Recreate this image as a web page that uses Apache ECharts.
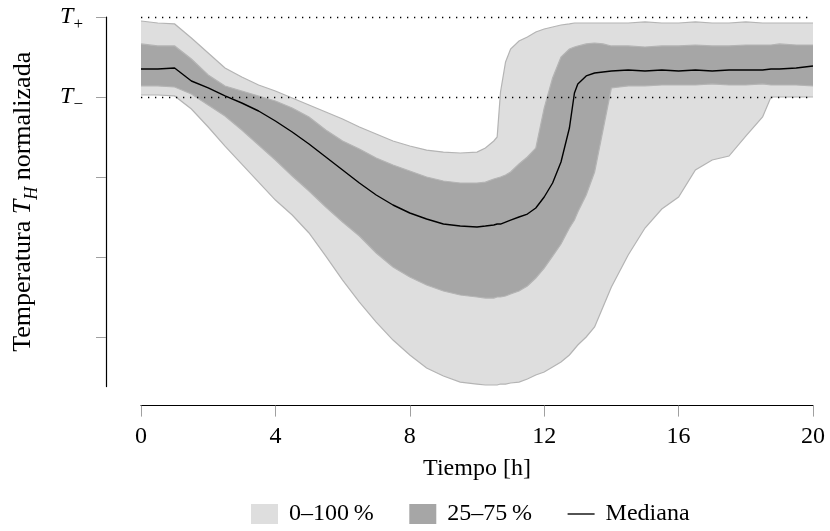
<!DOCTYPE html>
<html>
<head>
<meta charset="utf-8">
<script src="https://cdn.jsdelivr.net/npm/echarts@6/dist/echarts.min.js"></script>
<style>html,body{margin:0;padding:0;background:#fff}#c{width:830px;height:531px}</style>
</head>
<body>
<div id="c"></div>
<script>
// Time (h)
const hours = [0,0.5,1,1.5,2,2.5,3,3.5,4,4.5,5,5.5,6,6.5,7,7.5,8,8.5,9,9.5,10,10.25,10.5,10.6,10.7,10.85,11,11.25,11.5,11.75,12,12.25,12.5,12.75,12.9,13,13.25,13.5,13.75,14,14.5,15,15.5,16,16.5,17,17.5,18,18.5,18.75,19,19.5,20];
// Normalized temperature (T- = 0, T+ = 1)
const outerUpper = [0.95,0.925,0.913,0.738,0.55,0.363,0.25,0.15,0.075,-0.013,-0.1,-0.188,-0.275,-0.375,-0.463,-0.55,-0.613,-0.663,-0.688,-0.7,-0.688,-0.638,-0.55,-0.5,0.063,0.438,0.6,0.7,0.75,0.813,0.85,0.875,0.9,0.913,0.925,0.925,0.925,0.925,0.925,0.925,0.925,0.938,0.925,0.925,0.938,0.925,0.925,0.938,0.925,0.925,0.925,0.925,0.925];
const outerLower = [0.025,0.025,0.013,-0.15,-0.375,-0.613,-0.838,-1.063,-1.288,-1.475,-1.7,-1.988,-2.288,-2.563,-2.813,-3.038,-3.225,-3.388,-3.488,-3.563,-3.588,-3.6,-3.6,-3.6,-3.588,-3.588,-3.575,-3.563,-3.525,-3.475,-3.438,-3.375,-3.313,-3.225,-3.15,-3.1,-3.0,-2.875,-2.625,-2.375,-1.975,-1.638,-1.4,-1.25,-0.913,-0.788,-0.738,-0.488,-0.25,0,0,0,0];
const innerUpper = [0.663,0.638,0.638,0.475,0.275,0.138,0.075,0.013,-0.05,-0.138,-0.25,-0.413,-0.55,-0.65,-0.763,-0.85,-0.925,-1.0,-1.05,-1.075,-1.075,-1.063,-1.025,-1.013,-1.0,-0.975,-0.938,-0.838,-0.75,-0.638,-0.138,0.238,0.5,0.6,0.625,0.638,0.663,0.675,0.663,0.638,0.638,0.625,0.638,0.638,0.65,0.638,0.638,0.65,0.65,0.65,0.663,0.65,0.65];
const innerLower = [0.138,0.138,0.125,0.038,-0.1,-0.238,-0.413,-0.6,-0.788,-0.988,-1.175,-1.375,-1.563,-1.738,-1.95,-2.125,-2.25,-2.35,-2.425,-2.475,-2.5,-2.513,-2.513,-2.5,-2.5,-2.488,-2.463,-2.425,-2.363,-2.263,-2.138,-1.988,-1.838,-1.638,-1.538,-1.438,-1.225,-0.938,-0.413,0.113,0.138,0.138,0.15,0.15,0.15,0.163,0.15,0.15,0.163,0.15,0.15,0.15,0.138];
const median = [0.35,0.35,0.363,0.2,0.113,0.013,-0.075,-0.175,-0.3,-0.438,-0.588,-0.75,-0.913,-1.075,-1.225,-1.35,-1.45,-1.525,-1.588,-1.613,-1.625,-1.613,-1.6,-1.588,-1.588,-1.563,-1.538,-1.5,-1.463,-1.388,-1.25,-1.075,-0.813,-0.388,0.05,0.163,0.263,0.3,0.313,0.325,0.338,0.325,0.338,0.325,0.338,0.325,0.338,0.338,0.338,0.35,0.35,0.363,0.388];
const xTicks = [0,4,8,12,16,20];
const yTicks = [-3,-2,-1,0,1];
const yLabels = {1:'+', 0:'\u2212'};
const legendNames = ['0\u2013100\u2009%','25\u201375\u2009%','Mediana'];

const FONT = 'Liberation Serif';
const FS = 24;
const EDGE = '#b4b4b4';

function bandSeries(name, upper, lower, fill, z) {
  return {
    name: name, type:'custom', coordinateSystem:'cartesian2d', silent:true, z:z,
    itemStyle:{color:fill},
    data:[[hours[0], upper[0]]],
    encode:{x:0, y:1},
    renderItem:function(params, api){
      const up = hours.map((h,i)=>api.coord([h, upper[i]]));
      const lo = hours.map((h,i)=>api.coord([h, lower[i]]));
      const poly = up.concat(lo.slice().reverse());
      return {type:'group', children:[
        {type:'polygon', shape:{points:poly}, style:{fill:fill, stroke:null}},
        {type:'polyline', shape:{points:up}, style:{fill:null, stroke:EDGE, lineWidth:1.2}},
        {type:'polyline', shape:{points:lo}, style:{fill:null, stroke:EDGE, lineWidth:1.2}}
      ]};
    }
  };
}

const chart = echarts.init(document.getElementById('c'), null, {renderer:'canvas'});
chart.setOption({
  animation:false,
  backgroundColor:'#fff',
  grid:{left:141, right:17, top:17, bottom:144.4, outerBoundsMode:'none', containLabel:false},
  xAxis:{
    type:'value', min:0, max:20, interval:4, offset:19,
    axisLine:{onZero:false, lineStyle:{color:'#000', width:1.2}},
    axisTick:{length:11, lineStyle:{color:'#a0a0a0', width:1}},
    axisLabel:{margin:19, color:'#000', fontFamily:FONT, fontSize:FS},
    splitLine:{show:false},
    name:'Tiempo [h]', nameLocation:'middle', nameGap:51,
    nameTextStyle:{color:'#000', fontFamily:FONT, fontSize:FS}
  },
  yAxis:{
    type:'value', min:-3.62, max:1, offset:35,
    axisLine:{show:true, onZero:false, lineStyle:{color:'#000', width:1.2}},
    axisTick:{show:true, length:10, customValues:yTicks, lineStyle:{color:'#a0a0a0', width:1}},
    axisLabel:{show:true, customValues:[0,1], margin:23, color:'#000', fontFamily:FONT, fontSize:FS,
      formatter: v => (yLabels[v] !== undefined ? '{t|T}{s|' + yLabels[v] + '}' : ''),
      rich:{
        t:{fontFamily:FONT, fontSize:FS, fontStyle:'italic', lineHeight:22, color:'#000'},
        s:{fontFamily:FONT, fontSize:17, lineHeight:32, verticalAlign:'bottom', color:'#000'}
      }},
    splitLine:{show:false},
    name:'{a|Temperatura }{t|T}{h|H}{a| normalizada}', nameLocation:'middle', nameGap:65,
    nameTextStyle:{color:'#000', fontFamily:FONT, fontSize:26,
      rich:{
        a:{fontFamily:FONT, fontSize:26, lineHeight:25, color:'#000'},
        t:{fontFamily:FONT, fontSize:26, fontStyle:'italic', lineHeight:25, color:'#000'},
        h:{fontFamily:FONT, fontSize:18, fontStyle:'italic', lineHeight:35, verticalAlign:'bottom', color:'#000'}
      }}
  },
  legend:{
    top:502, left:251, padding:0, itemWidth:27, itemHeight:20, itemGap:35.5,
    textStyle:{fontFamily:FONT, fontSize:FS, color:'#000', padding:[0,0,0,6]},
    data:[
      {name:legendNames[0], icon:'rect', itemStyle:{color:'#dedede', borderWidth:0}},
      {name:legendNames[1], icon:'rect', itemStyle:{color:'#a6a6a6', borderWidth:0}},
      {name:legendNames[2], icon:'path://M0,0H100V5H0Z', itemStyle:{color:'#000', borderWidth:0}}
    ]
  },
  series:[
    bandSeries(legendNames[0], outerUpper, outerLower, '#dedede', 2),
    bandSeries(legendNames[1], innerUpper, innerLower, '#a6a6a6', 3),
    {name:legendNames[2], type:'line', data:hours.map((h,i)=>[h, median[i]]), symbol:'none',
      lineStyle:{color:'#000', width:1.4}, itemStyle:{color:'#000'}, z:6, silent:true,
      markLine:{silent:true, symbol:'none', label:{show:false},
        lineStyle:{color:'#000', width:1.3, type:[1.3,5.7]},
        data:[{yAxis:1},{yAxis:0}]}}
  ]
});
</script>
</body>
</html>
